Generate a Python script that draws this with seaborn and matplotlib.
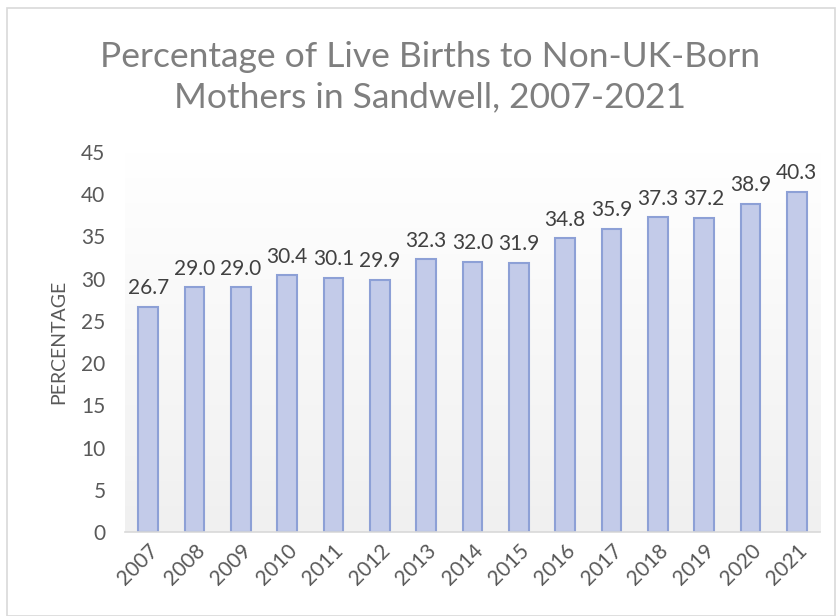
import matplotlib
matplotlib.use("Agg")
import matplotlib.pyplot as plt
import matplotlib.patches as mpatches
import seaborn as sns
import numpy as np
import pandas as pd

# data
years = ['2007', '2008', '2009', '2010', '2011', '2012', '2013', '2014',
         '2015', '2016', '2017', '2018', '2019', '2020', '2021']
percent = [26.7, 29.0, 29.0, 30.4, 30.1, 29.9, 32.3, 32.0,
           31.9, 34.8, 35.9, 37.3, 37.2, 38.9, 40.3]
y_ticks = [0, 5, 10, 15, 20, 25, 30, 35, 40, 45]

sns.set_style("white")
plt.rcParams['font.family'] = ['Lato', 'DejaVu Sans']

df = pd.DataFrame({'year': years, 'pct': percent})

fig = plt.figure(figsize=(8.37, 6.16), dpi=100)
ax = fig.add_axes([0.1493, 0.1364, 0.8304, 0.6168])

# background gradient of the plot area (light grey at bottom, white at top)
grad = np.linspace(0.0, 1.0, 256).reshape(-1, 1)
ax.imshow(grad, cmap=matplotlib.colors.LinearSegmentedColormap.from_list(
    'bg', ['#f0f0f0', '#ffffff']), aspect='auto',
    extent=[-0.5, len(years) - 0.5, 0, 45], zorder=0, origin='lower')

sns.barplot(data=df, x='year', y='pct', color='#c3cbe9', edgecolor='#8da0d6',
            linewidth=1.5, width=0.43, saturation=1, ax=ax, zorder=2)

for i, v in enumerate(percent):
    ax.text(i, v + 1.0, f"{v:.1f}", ha='center', va='bottom',
            fontsize=15, color='#404040')

ax.set_xlim(-0.5, len(years) - 0.5)
ax.set_ylim(0, 45)
ax.set_yticks(y_ticks)
ax.tick_params(axis='y', labelsize=15, labelcolor='#595959', length=0, pad=14)
ax.tick_params(axis='x', labelsize=15, labelcolor='#595959', length=0, pad=6)
plt.setp(ax.get_xticklabels(), rotation=45, ha='right', rotation_mode='anchor')
ax.set_xlabel('')
ax.set_ylabel('PERCENTAGE', fontsize=14, color='#595959', labelpad=10)

for s in ['top', 'right', 'left']:
    ax.spines[s].set_visible(False)
ax.spines['bottom'].set_color('#d9d9d9')
ax.spines['bottom'].set_linewidth(1.2)

fig.text(0.514, 0.875, 'Percentage of Live Births to Non-UK-Born\nMothers in Sandwell, 2007-2021',
         ha='center', va='center', fontsize=25.5, color='#7f7f7f', linespacing=1.3)

# chart border
fig.patches.append(mpatches.Rectangle((0.008, 0.0), 0.99, 0.987, transform=fig.transFigure,
                                      fill=False, edgecolor='#d9d9d9', linewidth=1.2))

fig.savefig('out.png', dpi=100)
